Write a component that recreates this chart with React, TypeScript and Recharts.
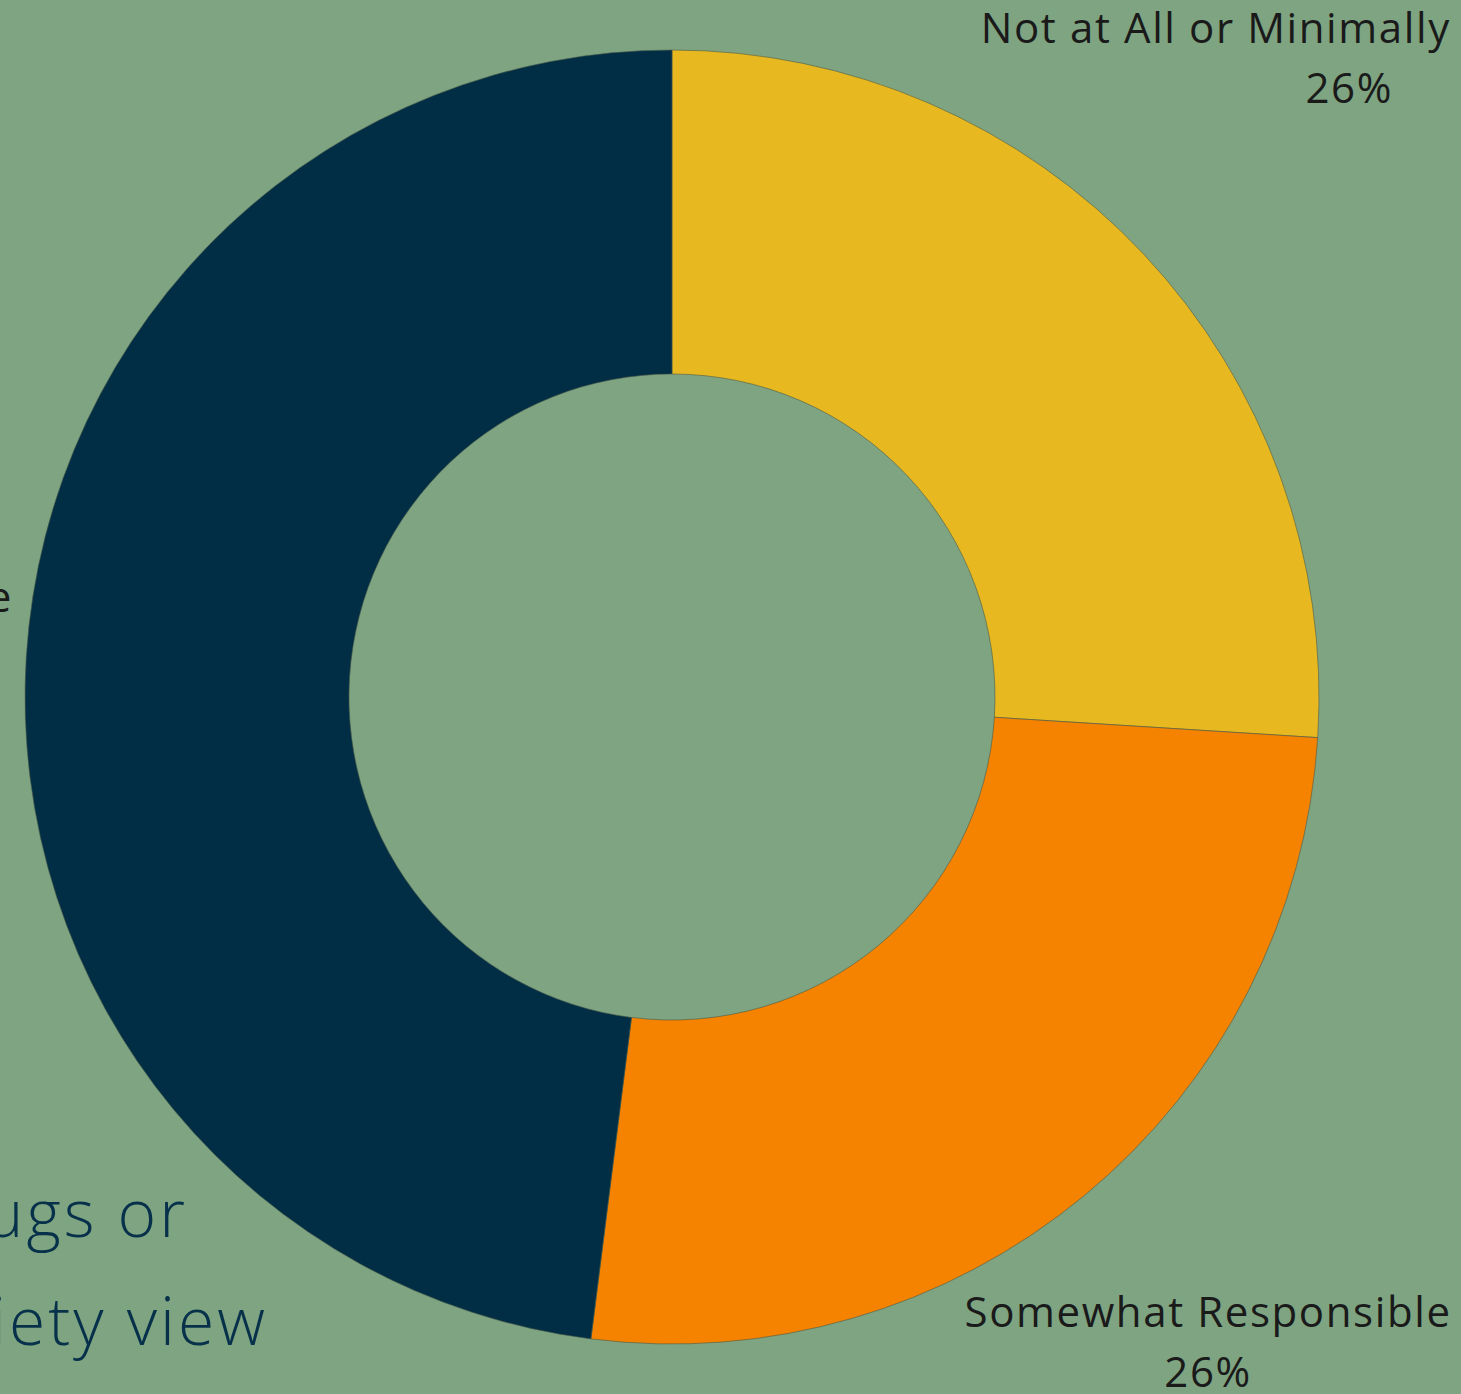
import { PieChart, Pie, Cell } from "recharts";

const categories = [
  "Not at All or Minimally Responsible",
  "Somewhat Responsible",
  "Highly Responsible",
];
const shares = [26, 26, 48];
const colors = ["#e8b820", "#f58300", "#022e45"];
const captionLines = ["ugs or", "iety view"];

const data = categories.map((name, i) => ({ name, value: shares[i] }));

const FONT = "'Open Sans', 'Noto Sans', sans-serif";
const RAD = Math.PI / 180;

const renderLabel = (props: any) => {
  const { cx, cy, midAngle, outerRadius, index, name, value } = props;
  let x: number;
  let y: number;
  let anchor: "middle" | "end" = "middle";
  if (index === 2) {
    // left-hand label sits beside the ring, mostly cut off by the frame
    x = cx - outerRadius - 12;
    y = cy - 85;
    anchor = "end";
  } else {
    const r = outerRadius + (index === 0 ? 282 : 194);
    x = cx + r * Math.cos(-midAngle * RAD);
    y = cy + r * Math.sin(-midAngle * RAD) - 18;
  }
  return (
    <text
      x={x}
      y={y}
      textAnchor={anchor}
      fill="#1a1a1a"
      fontFamily={FONT}
      fontSize={42}
      letterSpacing={1.6}
    >
      <tspan x={x}>{name}</tspan>
      <tspan x={anchor === "end" ? x - 200 : x} dy={60} textAnchor="middle">
        {value}%
      </tspan>
    </text>
  );
};

const App = () => {
  return (
    <div
      style={{
        position: "absolute",
        left: 0,
        top: 0,
        width: 1461,
        height: 1394,
        overflow: "hidden",
        background: "#7ea481",
      }}
    >
      <PieChart width={1461} height={1394} margin={{ top: 0, right: 0, bottom: 0, left: 0 }}>
        <Pie
          data={data}
          dataKey="value"
          nameKey="name"
          cx={672}
          cy={697}
          innerRadius={323}
          outerRadius={647}
          startAngle={90}
          endAngle={-270}
          stroke="#4a5a4a"
          strokeWidth={0.6}
          label={renderLabel}
          labelLine={false}
          isAnimationActive={false}
        >
          {data.map((d, i) => (
            <Cell key={d.name} fill={colors[i]} />
          ))}
        </Pie>
      </PieChart>
      <svg
        width={1461}
        height={1394}
        style={{ position: "absolute", left: 0, top: 0, pointerEvents: "none" }}
      >
        {captionLines.map((line, i) => (
          <text
            key={line}
            x={i === 0 ? 188 : 268}
            y={1237 + i * 108}
            textAnchor="end"
            fill="#07304a"
            fontFamily={FONT}
            fontWeight={300}
            fontSize={66}
            letterSpacing={3}
          >
            {line}
          </text>
        ))}
      </svg>
    </div>
  );
};

export default App;
